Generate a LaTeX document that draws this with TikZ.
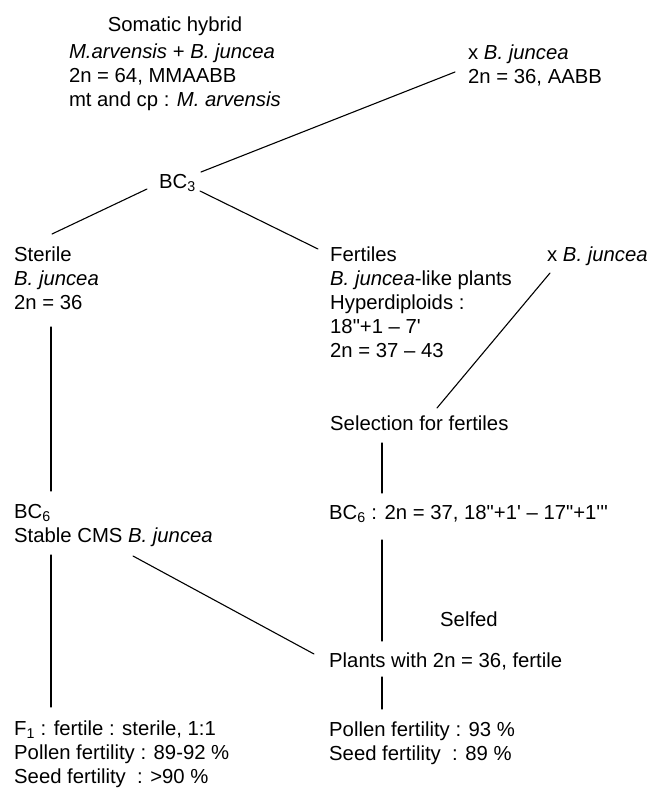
\documentclass[tikz,border=0pt]{standalone}
\usepackage{fontspec}
\setmainfont{Liberation Sans}[Ligatures=TeXOff]
\usepackage{tkz-euclide}

\begin{document}
\begin{tikzpicture}[x=1pt,y=-1pt,line join=round,
    font=\fontsize{20.3}{24.2}\selectfont,
    lbl/.style={anchor=base west,inner sep=0pt,align=left}]
    \useasboundingbox (0,0) rectangle (650,788);
    \node[anchor=base,inner sep=0pt] (somatic) at (175,31) {Somatic hybrid};
    \node[lbl] (hybrid) at (68.8,106.7) {\textit{M.arvensis} + \textit{B. juncea}\\2n = 64, MMAABB\\mt and cp : \textit{M. arvensis}};
    \node[lbl] (crossA) at (468,83.3) {x \textit{B. juncea}\\2n = 36, AABB};
    \node[lbl] (bcthree) at (159,188) {BC\textsubscript{3}};
    \node[lbl] (sterile) at (14,309.4) {Sterile\\\textit{B. juncea}\\2n = 36};
    \node[lbl] (fertiles) at (330,357.8) {Fertiles\\\textit{B. juncea}-like plants\\Hyperdiploids :\\18"+1 – 7'\\2n = 37 – 43};
    \node[lbl] (crossB) at (547,261) {x \textit{B. juncea}};
    \node[lbl] (selection) at (330,430) {Selection for fertiles};
    \node[lbl] (bcsixL) at (14,542.7) {BC\textsubscript{6}\\Stable CMS \textit{B. juncea}};
    \node[lbl] (bcsixR) at (329,519.5) {BC\textsubscript{6} : 2n = 37, 18"+1' – 17"+1'''};
    \node[lbl] (selfed) at (440,626) {Selfed};
    \node[lbl] (plants) at (329,667) {Plants with 2n = 36, fertile};
    \node[lbl] (foneL) at (14,783.4) {F\textsubscript{1} : fertile : sterile, 1:1\\Pollen fertility : 89-92 \%\\Seed fertility\ \ : >90 \%};
    \node[lbl] (pollenR) at (329,760.2) {Pollen fertility : 93 \%\\Seed fertility\ \ : 89 \%};
    \tkzDefPoints{455/72/A,201/172/B,147/189/C,52/234/D,200/191/E,318/249/F}
    \tkzDefPoints{51/327/G,51/491/H,550/273/I,437/408/J,382/443/K,382/493/L}
    \tkzDefPoints{51/555/M,51/707/N,133/556/O,314/654/P,382/540/Q,382/641/R,382/677/S,382/709/T}
    \tkzDrawSegments[line width=1.1pt](A,B C,D E,F G,H I,J K,L M,N O,P Q,R S,T)
\end{tikzpicture}
\end{document}
